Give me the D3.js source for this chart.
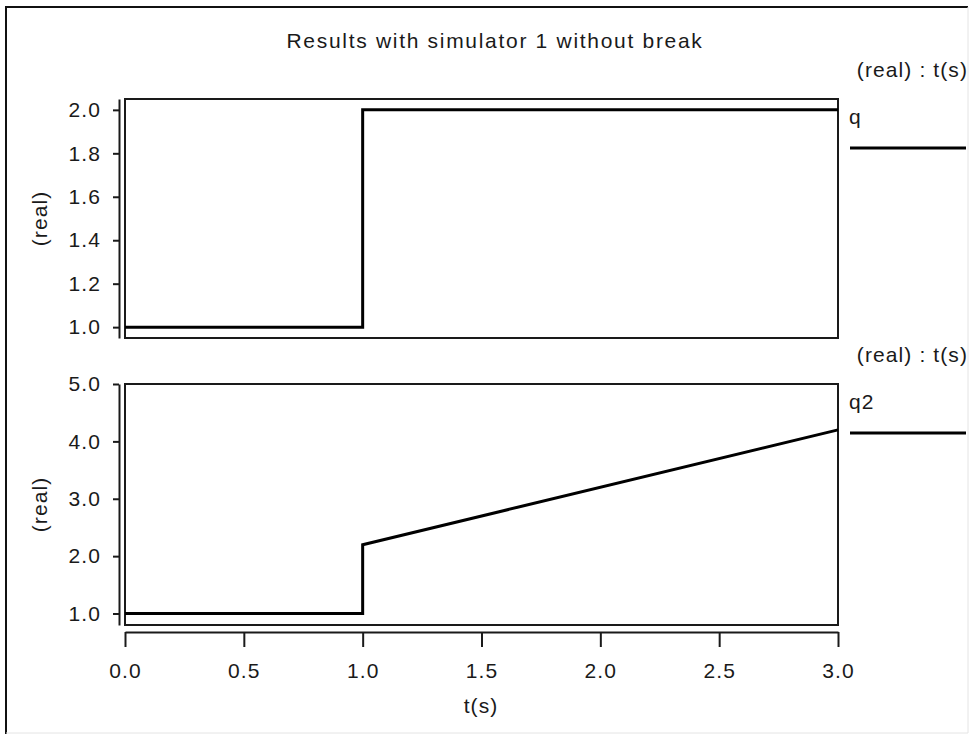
<!DOCTYPE html>
<html>
<head>
<meta charset="utf-8">
<script src="https://cdn.jsdelivr.net/npm/d3@7"></script>
<style>
  body { margin: 0; background: #fff; }
  svg { display: block; }
  text { font-family: "Liberation Sans", Arial, sans-serif; fill: #1a1a1a; }
</style>
</head>
<body>
<svg id="chart" width="973" height="736"></svg>
<script>
// values
const title = "Results with simulator 1 without break";
const time = [0, 1, 1, 3];
const qValues = [1, 1, 2, 2];
const q2Values = [1, 1, 2.2, 4.2];
const timeTicks = [0, 0.5, 1, 1.5, 2, 2.5, 3];
const qTicks = [1.0, 1.2, 1.4, 1.6, 1.8, 2.0];
const q2Ticks = [1, 2, 3, 4, 5];
const seriesNames = ["q", "q2"];

const svg = d3.select("#chart");
const ink = "#1a1a1a";
const left = 125, right = 838, axisX = 119;
const fontSize = "21px", spacing = "1.1px";

const x = d3.scaleLinear().domain([0, 3]).range([left, right]);

const panels = [
  { name: seriesNames[0], values: qValues, ticks: qTicks, domain: [0.95, 2.05], top: 99, bottom: 338 },
  { name: seriesNames[1], values: q2Values, ticks: q2Ticks, domain: [0.8, 5.0], top: 384, bottom: 625 }
];

function label(sel) {
  return sel.style("font-size", fontSize).style("letter-spacing", spacing);
}

// outer frame (sunken look: dark top/left, light bottom/right)
svg.append("line").attr("x1", 5).attr("x2", 968).attr("y1", 7).attr("y2", 7)
  .attr("stroke", "#111").attr("stroke-width", 2);
svg.append("line").attr("x1", 6).attr("x2", 6).attr("y1", 6).attr("y2", 734)
  .attr("stroke", "#111").attr("stroke-width", 2);
svg.append("line").attr("x1", 968).attr("x2", 968).attr("y1", 7).attr("y2", 733)
  .attr("stroke", "#e4e4e4").attr("stroke-width", 1);
svg.append("line").attr("x1", 6).attr("x2", 968).attr("y1", 733).attr("y2", 733)
  .attr("stroke", "#e4e4e4").attr("stroke-width", 1);

svg.append("text")
  .attr("x", 495).attr("y", 48)
  .attr("text-anchor", "middle")
  .call(label)
  .style("letter-spacing", "1.7px")
  .text(title);

panels.forEach(p => {
  const y = d3.scaleLinear().domain(p.domain).range([p.bottom, p.top]);

  // plot box
  svg.append("rect")
    .attr("x", left).attr("y", p.top)
    .attr("width", right - left).attr("height", p.bottom - p.top)
    .attr("fill", "none").attr("stroke", ink).attr("stroke-width", 2);

  // y axis, detached from the box
  const ay = svg.append("g")
    .attr("transform", `translate(${axisX},0)`)
    .call(d3.axisLeft(y).tickValues(p.ticks).tickFormat(d3.format(".1f"))
      .tickSize(6).tickSizeOuter(0).tickPadding(12));
  ay.select(".domain").attr("stroke", ink).attr("stroke-width", 2);
  ay.selectAll(".tick line").attr("stroke", ink).attr("stroke-width", 2);
  ay.selectAll(".tick text").attr("fill", ink)
    .style("font-family", '"Liberation Sans", Arial, sans-serif').call(label);

  svg.append("text")
    .attr("transform", `translate(47,${(p.top + p.bottom) / 2}) rotate(-90)`)
    .attr("text-anchor", "middle")
    .call(label)
    .text("(real)");

  // data
  const pts = time.map((t, i) => [t, p.values[i]]);
  svg.append("path")
    .datum(pts)
    .attr("d", d3.line().x(d => x(d[0])).y(d => y(d[1])))
    .attr("fill", "none").attr("stroke", "#000").attr("stroke-width", 3)
    .attr("stroke-linejoin", "miter");

  // legend on the right
  svg.append("text")
    .attr("x", 968).attr("y", p.top - 22)
    .attr("text-anchor", "end")
    .call(label)
    .text("(real) : t(s)");
  svg.append("text")
    .attr("x", 849).attr("y", p.top + 25)
    .call(label)
    .text(p.name);
  svg.append("line")
    .attr("x1", 850).attr("x2", 966)
    .attr("y1", p.top + 49).attr("y2", p.top + 49)
    .attr("stroke", "#000").attr("stroke-width", 3);
});

// shared time axis
const ax = svg.append("g")
  .attr("transform", "translate(0,632)")
  .call(d3.axisBottom(x).tickValues(timeTicks).tickFormat(d3.format(".1f"))
    .tickSize(15).tickSizeOuter(0).tickPadding(16));
ax.select(".domain").attr("stroke", ink).attr("stroke-width", 2);
ax.selectAll(".tick line").attr("stroke", ink).attr("stroke-width", 2);
ax.selectAll(".tick text").attr("fill", ink)
  .style("font-family", '"Liberation Sans", Arial, sans-serif').call(label);

svg.append("text")
  .attr("x", 481).attr("y", 713)
  .attr("text-anchor", "middle")
  .call(label)
  .text("t(s)");
</script>
</body>
</html>
